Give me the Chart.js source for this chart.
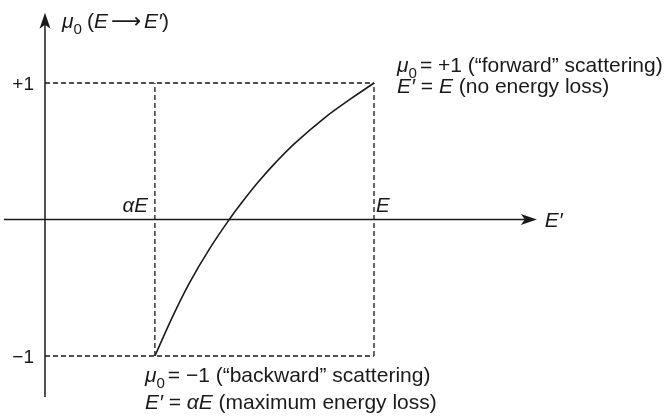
<!DOCTYPE html>
<html>
<head>
<meta charset="utf-8">
<script src="https://cdn.jsdelivr.net/npm/chart.js@4/dist/chart.umd.min.js"></script>
<style>
  body { margin: 0; background: #fff; }
  #wrap { width: 666px; height: 417px; }
</style>
</head>
<body>
<div id="wrap"><canvas id="muChart" width="666" height="417"></canvas></div>
<script>
// E'/E along the curve and the matching cosine mu0
const ratio = [0.334, 0.39, 0.44, 0.50, 0.56, 0.60, 0.65, 0.70, 0.76, 0.85, 0.93, 1];
const mu0 = [-1, -0.70, -0.46, -0.215, 0, 0.13, 0.28, 0.415, 0.56, 0.745, 0.885, 1];

// tick positions and their labels
const alpha = 0.334;
const xTickValues = [alpha, 1];
const xTickLabels = ['αE', 'E'];
const yTickValues = [1, -1];
const yTickLabels = ['+1', '−1'];

// axis extents in data units (beyond the plotted box)
const xAxisRange = [-0.125, 1.495];
const yAxisRange = [-1.3, 1.515];

const INK = '#1a1a1a';
const FONT = '"Liberation Sans", Arial, sans-serif';
const SIZE = 21;

function curvePoints() {
  return ratio.map((r, i) => ({ x: r, y: mu0[i] }));
}

function guide(points) {
  return {
    data: points,
    borderColor: INK,
    borderWidth: 1.3,
    borderDash: [5, 3],
    pointRadius: 0,
    tension: 0,
    clip: false
  };
}

// draws a list of text runs, some italic, some as subscripts
function drawRuns(ctx, x, y, runs) {
  runs.forEach(r => {
    const size = r.sub ? SIZE * 0.72 : SIZE;
    ctx.font = (r.it ? 'italic ' : '') + size + 'px ' + (r.face || FONT);
    ctx.fillText(r.t, x, y + (r.sub ? SIZE * 0.28 : 0));
    x += ctx.measureText(r.t).width + (r.gap || 0);
  });
}

function arrowHead(ctx, tx, ty, dir) {
  // dir: 'up' or 'right'
  ctx.save();
  ctx.translate(tx, ty);
  if (dir === 'right') ctx.rotate(Math.PI / 2);
  ctx.beginPath();
  ctx.moveTo(0, 0);
  ctx.lineTo(-5.5, 16);
  ctx.lineTo(0, 12);
  ctx.lineTo(5.5, 16);
  ctx.closePath();
  ctx.fillStyle = INK;
  ctx.fill();
  ctx.restore();
}

const axesPlugin = {
  id: 'axesPlugin',
  beforeDatasetsDraw(chart) {
    const { ctx, scales: { x, y } } = chart;
    const x0 = x.getPixelForValue(0);
    const y0 = y.getPixelForValue(0);
    ctx.save();
    ctx.strokeStyle = INK;
    ctx.lineWidth = 1.5;

    // horizontal axis E'
    const xl = x.getPixelForValue(xAxisRange[0]);
    const xr = x.getPixelForValue(xAxisRange[1]);
    ctx.beginPath();
    ctx.moveTo(xl, y0);
    ctx.lineTo(xr - 10, y0);
    ctx.stroke();
    arrowHead(ctx, xr, y0, 'right');

    // vertical axis mu0
    const yb = y.getPixelForValue(yAxisRange[0]);
    const yt = y.getPixelForValue(yAxisRange[1]);
    ctx.beginPath();
    ctx.moveTo(x0, yb);
    ctx.lineTo(x0, yt + 10);
    ctx.stroke();
    arrowHead(ctx, x0, yt, 'up');
    ctx.restore();
  },
  afterDatasetsDraw(chart) {
    const { ctx, scales: { x, y } } = chart;
    const x0 = x.getPixelForValue(0);
    const y0 = y.getPixelForValue(0);
    ctx.save();
    ctx.fillStyle = INK;
    ctx.textBaseline = 'alphabetic';

    // y tick labels
    ctx.font = '19px ' + FONT;
    ctx.textAlign = 'right';
    yTickValues.forEach((v, i) => {
      ctx.fillText(yTickLabels[i], x0 - 11, y.getPixelForValue(v) + 7);
    });

    // x tick labels above the axis
    ctx.font = 'italic 20.5px ' + FONT;
    ctx.textAlign = 'right';
    ctx.fillText(xTickLabels[0], x.getPixelForValue(xTickValues[0]) - 7, y0 - 8);
    ctx.textAlign = 'left';
    ctx.fillText(xTickLabels[1], x.getPixelForValue(xTickValues[1]) + 2, y0 - 8);

    // axis titles
    ctx.textAlign = 'left';
    drawRuns(ctx, x.getPixelForValue(xAxisRange[1]) + 8, y0 + 7, [{ t: 'E′', it: true }]);
    drawRuns(ctx, x0 + 17, y.getPixelForValue(yAxisRange[1]) + 15, [
      { t: 'μ', it: true }, { t: '0', sub: true, gap: 5 },
      { t: '(' }, { t: 'E', it: true, gap: 3 },
      { t: '⟶', face: '"DejaVu Sans", sans-serif', gap: 3 },
      { t: 'E′', it: true }, { t: ')' }
    ]);

    // end point notes
    const xr = x.getPixelForValue(1) + 23;
    const yTop = y.getPixelForValue(1);
    drawRuns(ctx, xr, yTop - 11, [
      { t: 'μ', it: true }, { t: '0', sub: true, gap: 3 },
      { t: '= +1 (“forward” scattering)' }
    ]);
    drawRuns(ctx, xr, yTop + 10, [
      { t: 'E′', it: true }, { t: ' = ' }, { t: 'E', it: true }, { t: ' (no energy loss)' }
    ]);

    const xa = x.getPixelForValue(alpha) - 10;
    const yBot = y.getPixelForValue(-1);
    drawRuns(ctx, xa, yBot + 26, [
      { t: 'μ', it: true }, { t: '0', sub: true, gap: 3 },
      { t: '= −1 (“backward” scattering)' }
    ]);
    drawRuns(ctx, xa, yBot + 53, [
      { t: 'E′', it: true }, { t: ' = ' }, { t: 'αE', it: true }, { t: ' (maximum energy loss)' }
    ]);
    ctx.restore();
  }
};

new Chart(document.getElementById('muChart'), {
  type: 'line',
  data: {
    datasets: [
      guide([{ x: 0, y: 1 }, { x: 1, y: 1 }]),
      guide([{ x: 0, y: -1 }, { x: 1, y: -1 }]),
      guide([{ x: alpha, y: -1 }, { x: alpha, y: 1 }]),
      guide([{ x: 1, y: -1 }, { x: 1, y: 1 }]),
      {
        data: curvePoints(),
        borderColor: INK,
        borderWidth: 1.6,
        pointRadius: 0,
        tension: 0.4,
        clip: false
      }
    ]
  },
  options: {
    responsive: false,
    animation: false,
    layout: { padding: { left: 45, right: 292, top: 83, bottom: 61 } },
    plugins: { legend: { display: false }, tooltip: { enabled: false } },
    scales: {
      x: { type: 'linear', min: 0, max: 1, display: false },
      y: { type: 'linear', min: -1, max: 1, display: false }
    }
  },
  plugins: [axesPlugin]
});
</script>
</body>
</html>
